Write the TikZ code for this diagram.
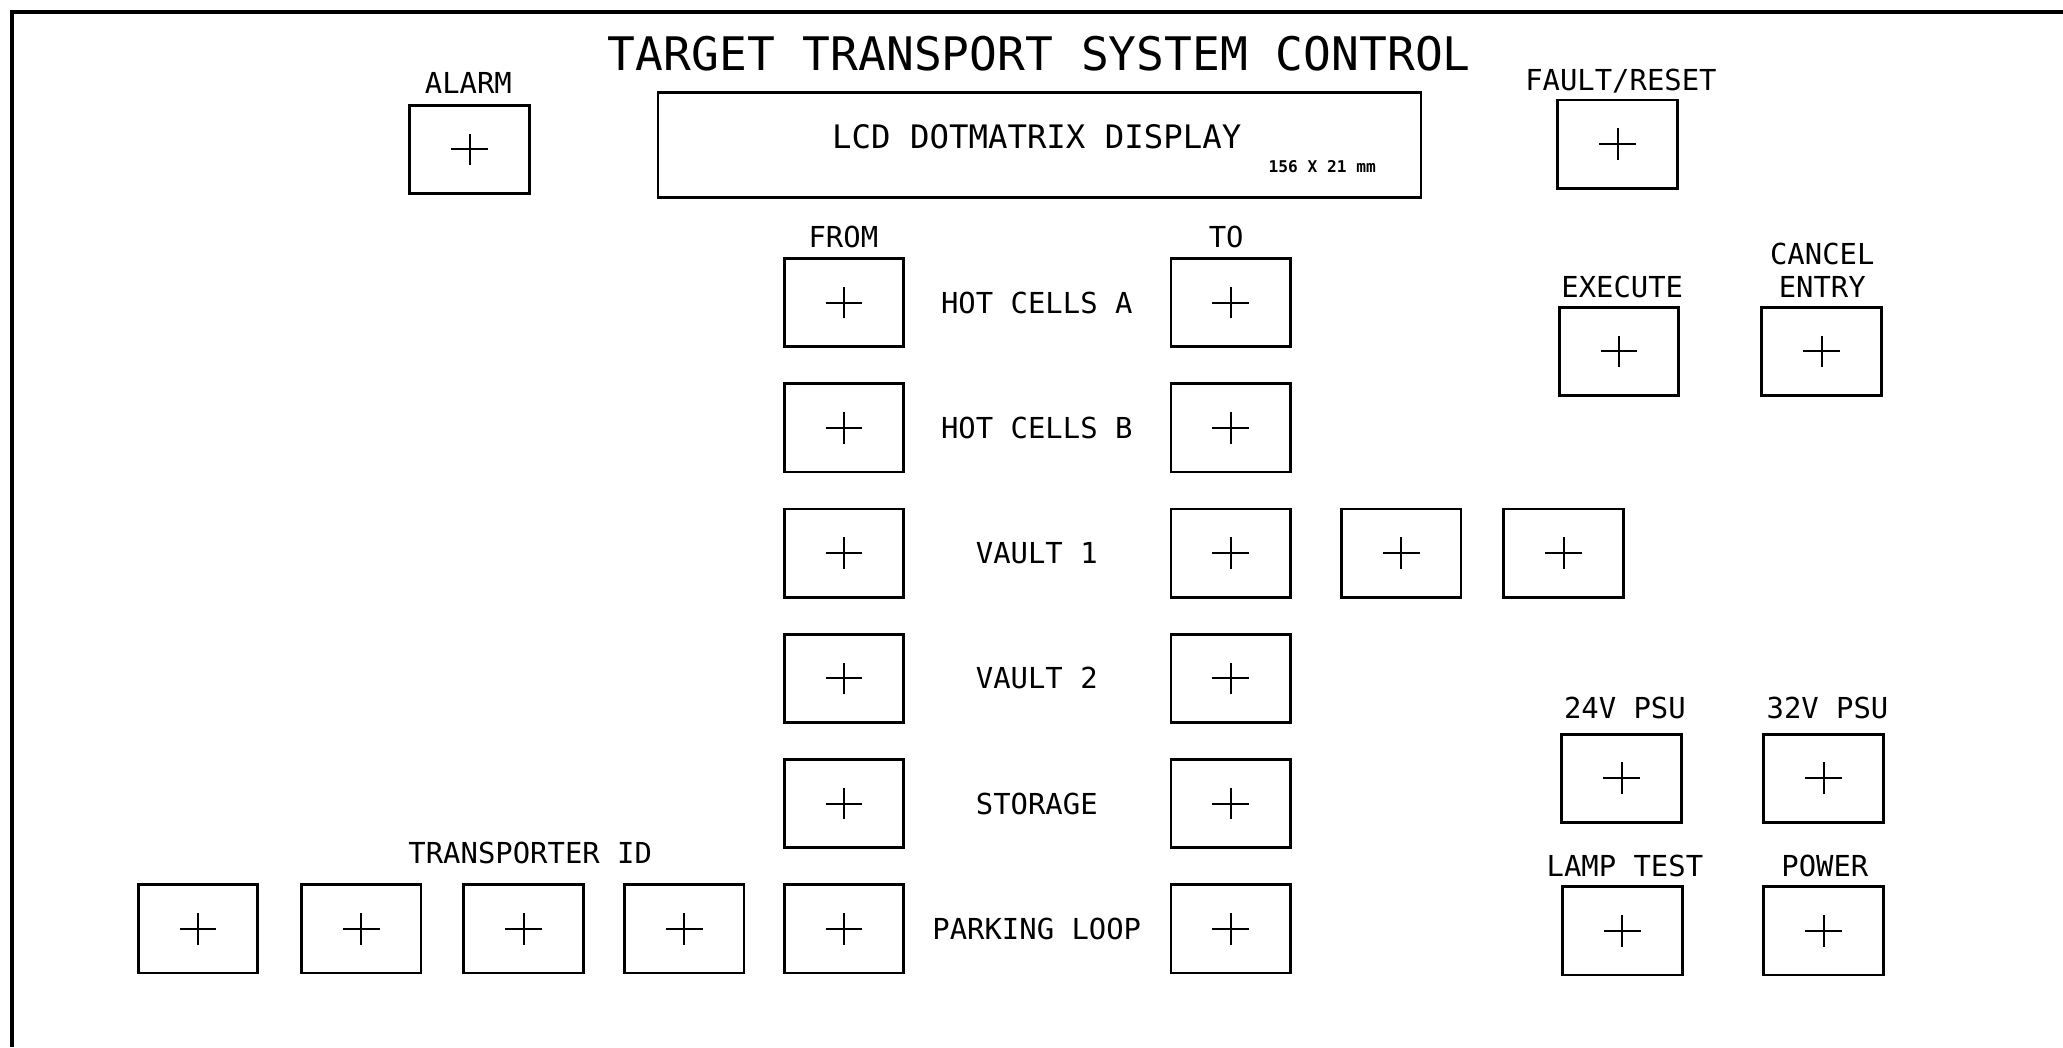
\documentclass[tikz,border=0pt]{standalone}
\usepackage{fontspec}
\setmainfont{DejaVu Sans Mono}
\tikzset{
  key/.style={draw, line width=1.2pt, minimum width=1.82cm, minimum height=1.34cm, inner sep=0pt,
    path picture={\draw[line width=0.9pt]
      ([xshift=-0.28cm]path picture bounding box.center) -- ([xshift=0.28cm]path picture bounding box.center)
      ([yshift=-0.24cm]path picture bounding box.center) -- ([yshift=0.24cm]path picture bounding box.center);}},
  lbl/.style={inner sep=0pt, font=\fontsize{12.5}{14.2}\selectfont},
}
\begin{document}
\begin{tikzpicture}
        [x=0.02cm,y=-0.02cm]
        \useasboundingbox (0,0) rectangle (1568,796);
        \draw[line width=1.6pt] (1568,9) -- (9,9) -- (9,796);

        \node[inner sep=0pt, font=\fontsize{20}{24}\selectfont] (title) at (790,41) {TARGET TRANSPORT SYSTEM CONTROL};

        % display
        \node[draw, line width=1.2pt, minimum width=11.6cm, minimum height=1.6cm] (lcd) at (790,110) {};
        \node[lbl, font=\fontsize{14}{16}\selectfont] (lcdtext) at (788,104) {LCD DOTMATRIX DISPLAY};
        \node[inner sep=0pt, font=\bfseries\fontsize{7}{8}\selectfont] (lcdsize) at (1005,127) {156 X 21 mm};

        \node[key] (alarm) at (357,113.5) {};
        \node[lbl] (alarmlbl) at (356,63) {ALARM};
        \node[key] (fault) at (1229.5,109.5) {};
        \node[lbl] (faultlbl) at (1232,62) {FAULT/RESET};

        % from / to
        \node[lbl] (fromlbl) at (641,180) {FROM};
        \node[lbl] (tolbl) at (932,180) {TO};
        \foreach \name [count=\i from 0] in {HOT CELLS A,HOT CELLS B,VAULT 1,VAULT 2,STORAGE,PARKING LOOP}
        {
          \node[key] (from\i) at (641.5,230+95.2*\i) {};
          \node[key] (to\i) at (935.5,230+95.2*\i) {};
          \node[lbl] (row\i) at (788,230+95.2*\i) {\name};
        }
        \node[key] (vaultc) at (1065,420.4) {};
        \node[key] (vaultd) at (1188.5,420.4) {};

        % transporter id
        \foreach \x [count=\j] in {150.5,274.5,398,520}
        {\node[key] (tid\j) at (\x,706) {};}
        \node[lbl] (tidlbl) at (403,648) {TRANSPORTER ID};

        % right hand keys
        \node[key] (exec) at (1230.5,267) {};
        \node[lbl] (execlbl) at (1233,218) {EXECUTE};
        \node[key] (cancel) at (1384.5,267) {};
        \node[lbl, align=center] (cancellbl) at (1385,205.5) {CANCEL\\ENTRY};

        \node[key] (psua) at (1232.5,591.5) {};
        \node[lbl] (psualbl) at (1235,538) {24V PSU};
        \node[key] (psub) at (1386,591.5) {};
        \node[lbl] (psublbl) at (1389,538) {32V PSU};

        \node[key] (lamp) at (1233,707.5) {};
        \node[lbl] (lamplbl) at (1235,658) {LAMP TEST};
        \node[key] (power) at (1386,707.5) {};
        \node[lbl] (powerlbl) at (1387,658) {POWER};
      \end{tikzpicture}
\end{document}
